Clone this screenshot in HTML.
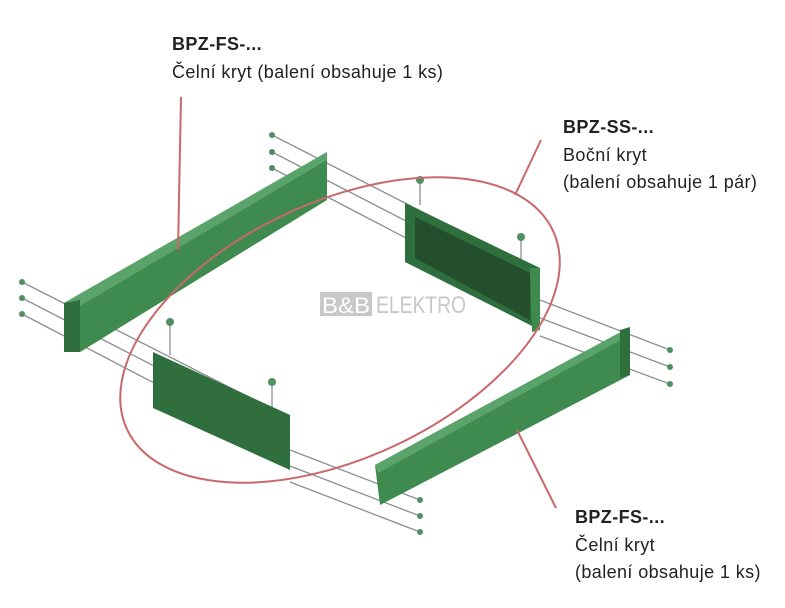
<!DOCTYPE html>
<html><head><meta charset="utf-8"><style>
body{margin:0;background:#fff;width:785px;height:608px;overflow:hidden;font-family:"Liberation Sans",sans-serif}
.t{position:absolute;font-size:18px;letter-spacing:0.4px;color:#222;line-height:27.5px;white-space:nowrap}
b{font-weight:bold}
</style></head><body>
<svg width="785" height="608" style="position:absolute;left:0;top:0">
<g stroke="#8a8f95" stroke-width="1.3">
<line x1="272" y1="135" x2="540" y2="272"/><line x1="272" y1="152" x2="540" y2="290"/><line x1="272" y1="168" x2="540" y2="308"/>
<line x1="540" y1="300" x2="670" y2="350"/><line x1="540" y1="318" x2="670" y2="367"/><line x1="540" y1="336" x2="670" y2="384"/>
<line x1="22" y1="282" x2="290" y2="418"/><line x1="22" y1="298" x2="290" y2="436"/><line x1="22" y1="314" x2="290" y2="454"/>
<line x1="290" y1="450" x2="420" y2="500"/><line x1="290" y1="466" x2="420" y2="516"/><line x1="290" y1="482" x2="420" y2="532"/>
<line x1="420" y1="180" x2="420" y2="205"/><line x1="521" y1="240" x2="521" y2="262"/><line x1="170" y1="325" x2="170" y2="355"/><line x1="272" y1="385" x2="272" y2="410"/>
</g>
<g fill="#4f8f62"><circle cx="272" cy="135" r="3"/><circle cx="272" cy="152" r="3"/><circle cx="272" cy="168" r="3"/><circle cx="22" cy="282" r="3"/><circle cx="22" cy="298" r="3"/><circle cx="22" cy="314" r="3"/><circle cx="670" cy="350" r="3"/><circle cx="670" cy="367" r="3"/><circle cx="670" cy="384" r="3"/><circle cx="420" cy="500" r="3"/><circle cx="420" cy="516" r="3"/><circle cx="420" cy="532" r="3"/>
<circle cx="420" cy="180" r="4"/><circle cx="521" cy="237" r="4"/><circle cx="170" cy="322" r="4"/><circle cx="272" cy="382" r="4"/></g>
<polygon points="64,303 327,152 327,200 80,352 64,352" fill="#3e8a4f"/>
<polygon points="64,303 327,152 327,160 70,312" fill="#5aa36a"/>
<polygon points="64,303 80,300 80,352 64,352" fill="#2f6f3e"/>
<polygon points="375,465 630,327 630,375 380,505" fill="#3e8a4f"/>
<polygon points="375,465 630,327 630,335 378,473" fill="#5aa36a"/>
<polygon points="620,330 630,327 630,375 620,378" fill="#2f6f3e"/>
<polygon points="405,203 540,268 540,330 405,262" fill="#2f6f3e"/>
<polygon points="415,217 530,273 530,320 415,258" fill="#234f2c"/>
<polygon points="530,268 540,268 540,330 532,332" fill="#3e8a4f"/>
<polygon points="153,352 290,415 290,470 153,408" fill="#2f6f3e"/>
<polygon points="162,365 285,420 285,460 162,400" fill="#316d3d"/>
<ellipse cx="340" cy="330" rx="235" ry="128" transform="rotate(-25 340 330)" fill="none" stroke="#c9686b" stroke-width="2"/>
<g stroke="#c9686b" stroke-width="2"><line x1="181" y1="97" x2="178" y2="250"/><line x1="541" y1="140" x2="515" y2="195"/><line x1="517" y1="430" x2="556" y2="508"/></g>
<rect x="320" y="292" width="52" height="24" fill="#c8c8c8"/>
<text x="322" y="313" font-size="22" fill="#fff" textLength="48" lengthAdjust="spacingAndGlyphs">B&amp;B</text>
<text x="376" y="313" font-size="24" fill="#c8c8c8" textLength="90" lengthAdjust="spacingAndGlyphs">ELEKTRO</text>
</svg>
<div class="t" style="left:172px;top:31px"><b>BPZ-FS-...</b><br>Čelní kryt (balení obsahuje 1 ks)</div>
<div class="t" style="left:563px;top:114px"><b>BPZ-SS-...</b><br>Boční kryt<br>(balení obsahuje 1 pár)</div>
<div class="t" style="left:575px;top:504px"><b>BPZ-FS-...</b><br>Čelní kryt<br>(balení obsahuje 1 ks)</div>
</body></html>
